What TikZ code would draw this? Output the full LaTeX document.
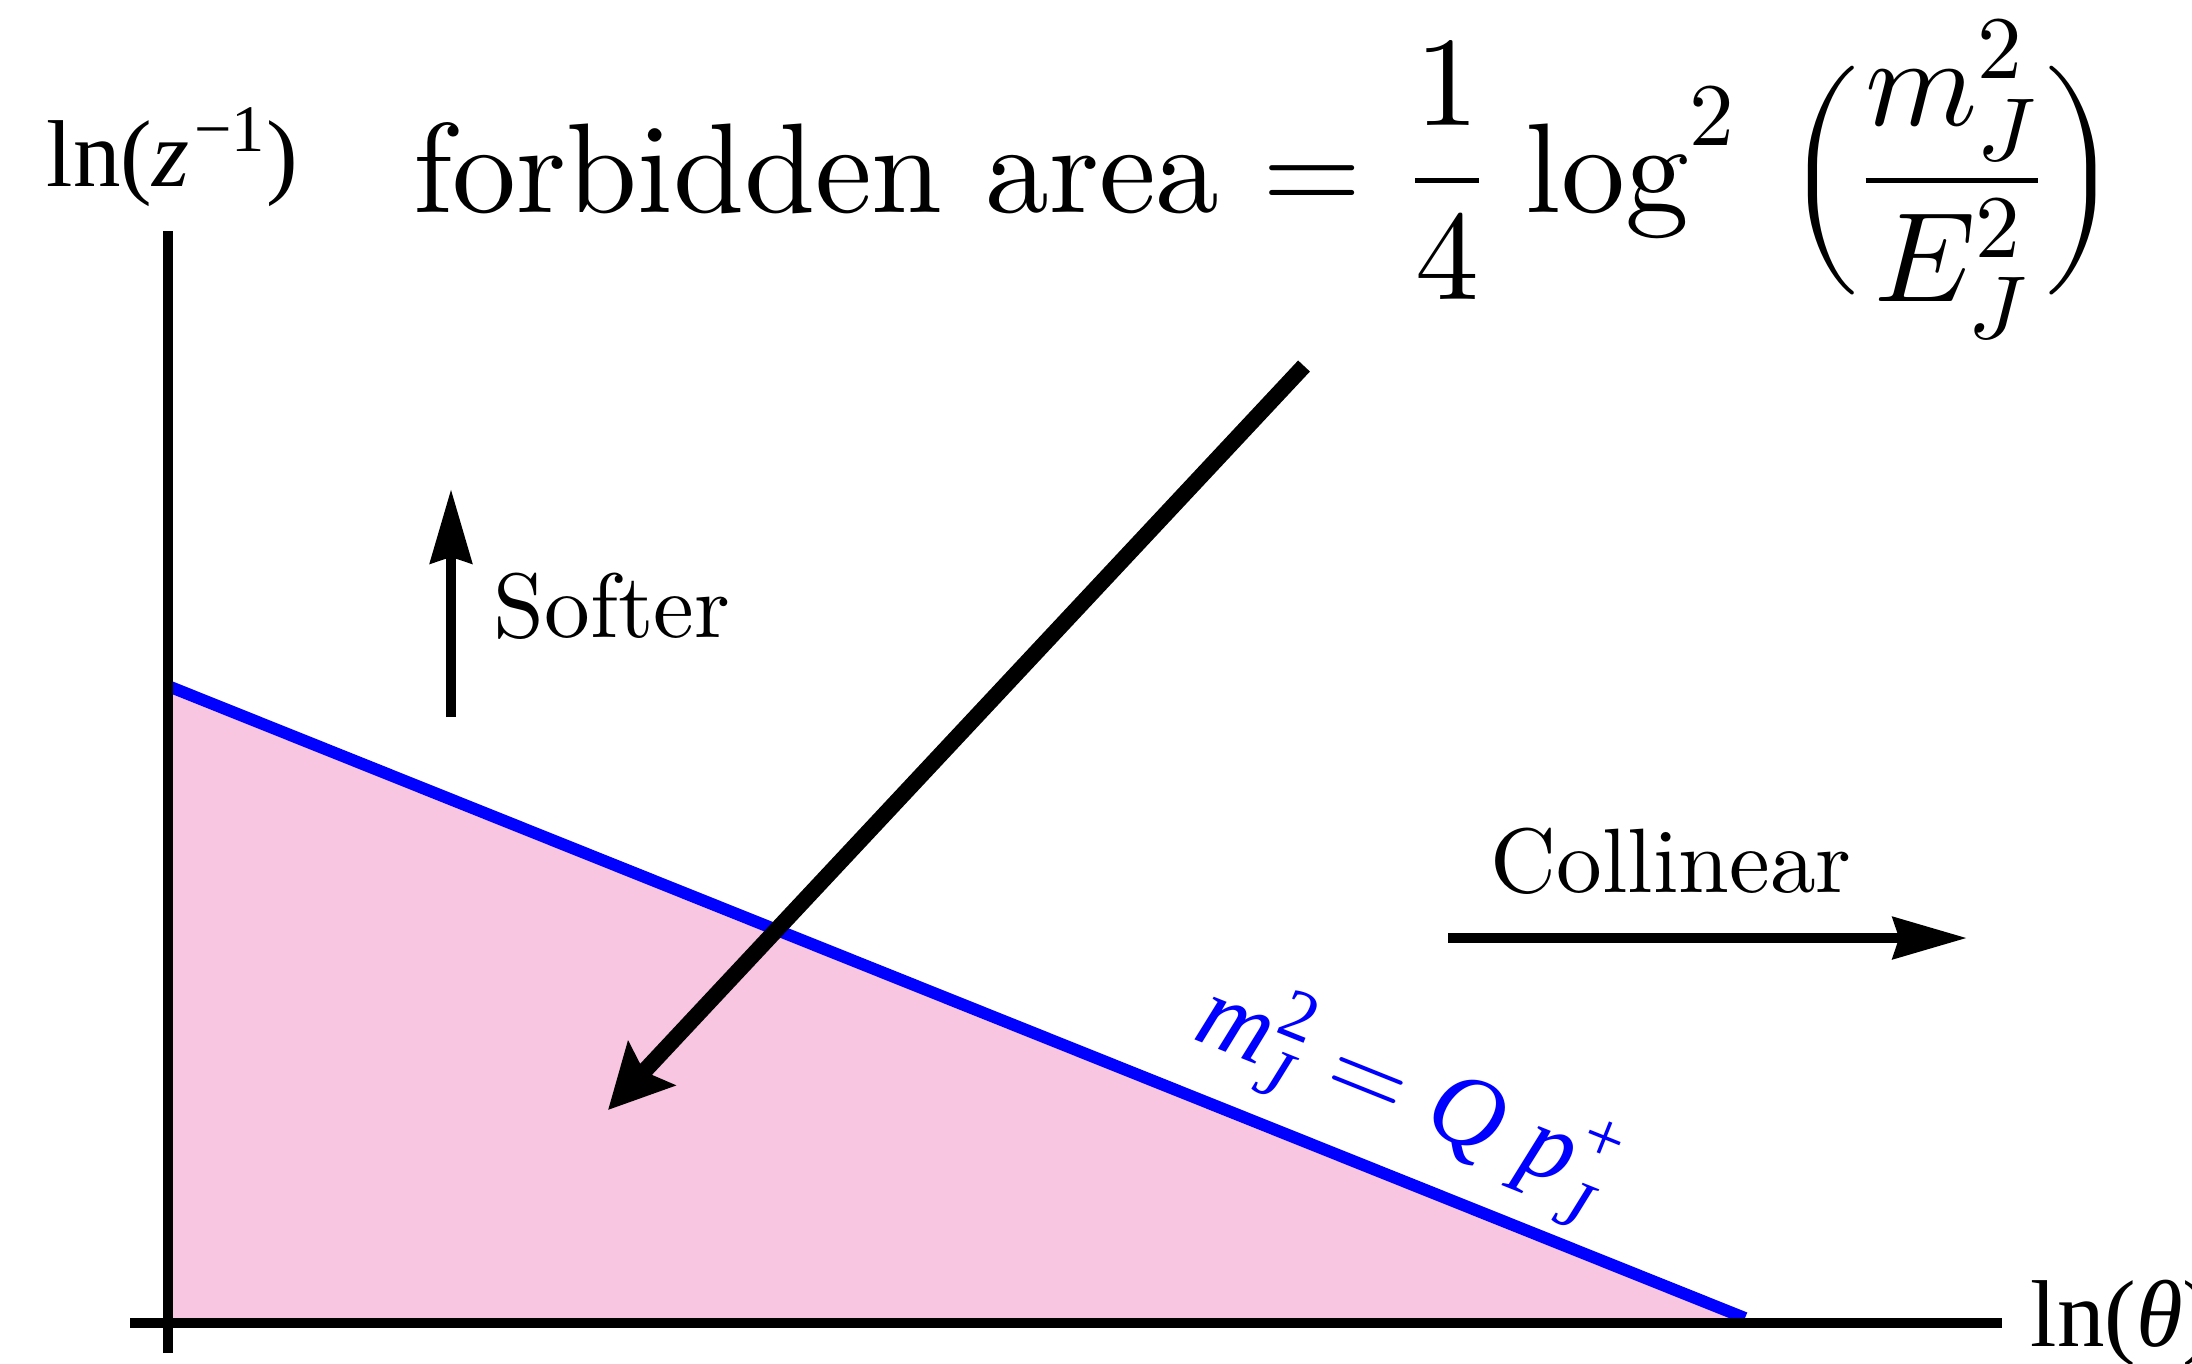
\documentclass[tikz,border=0pt]{standalone}
\usepackage{amsmath}
\usepackage{unicode-math}
\setmainfont{lmroman10-regular}[Extension=.otf, ItalicFont=lmroman10-italic, BoldFont=lmroman10-bold]
\setmathfont{latinmodern-math.otf}
\newfontfamily\timesf{Liberation Serif}
\usetikzlibrary{arrows.meta,positioning}
\definecolor{regionpink}{HTML}{F8C6E0}
\definecolor{boundblue}{HTML}{0000FF}

\begin{document}
\begin{tikzpicture}[x=0.01cm, y=-0.01cm,
  axisline/.style={line width=2.9pt, black},
  bigarrow/.style={line width=4.6pt, -{Stealth[length=18pt, width=18pt, inset=3pt]}},
  dirarrow/.style={line width=3pt, -{Stealth[length=21pt, width=11.7pt, inset=1.7pt]}},
  dirlabel/.style={font=\fontsize{26}{30}\selectfont, anchor=base west, inner sep=0pt},
  axislabel/.style={font=\fontsize{27}{30}\selectfont\timesf, anchor=base west, inner sep=0pt}]
\useasboundingbox (0,0) rectangle (2192,1363);
% axes and boundary
\coordinate (origin) at (168,1323);
\coordinate (ytop) at (168,231);
\coordinate (ybot) at (168,1353);
\coordinate (xleft) at (130,1323);
\coordinate (xright) at (2002,1323);
\coordinate (bndtop) at (168,686);
\coordinate (bndend) at (1745,1318);
\fill[regionpink] (bndtop) -- (bndend) -- (origin) -- cycle;
\draw[line width=3.4pt, boundblue] (bndtop) -- (bndend);
\draw[axisline] (ybot) -- (ytop);
\draw[axisline] (xleft) -- (xright);
\node[axislabel] (ylab) at (46,186) {ln(\textit{z}\kern1.5pt$^{\text{−1}}$)};
\node[axislabel] (xlab) at (2030,1346) {ln(\textit{θ})};
% directions
\coordinate (softfrom) at (451,717);
\coordinate (softto) at (451,489);
\draw[dirarrow] (softfrom) -- (softto);
\node[dirlabel] (soft) at (493,637) {Softer};
\coordinate (collfrom) at (1448,938);
\coordinate (collto) at (1967,938);
\draw[dirarrow] (collfrom) -- (collto);
\node[dirlabel] (coll) at (1490,892) {Collinear};
% forbidden area
\node[font=\fontsize{36.3}{40}\selectfont, anchor=base west, inner sep=0pt] (area) at (413,212)
  {forbidden area $=\mkern2mu \dfrac{1}{4}\,\log^2\mkern4mu\Big(\dfrac{m_J^2}{E_J^2}\Big)$};
\coordinate (areafrom) at (1304,366);
\coordinate (areato) at (608,1110);
\draw[bigarrow] (areafrom) -- (areato);
\node[font=\fontsize{29}{34}\selectfont\timesf, text=boundblue, rotate=-21.8, inner sep=0pt] (bndlab) at (1406,1098)
  {$\textit{m}^{\text{2}}_{\textit{J}} = \textit{Q}\;\textit{p}^{\text{+}}_{\textit{J}}$};
\end{tikzpicture}
\end{document}
